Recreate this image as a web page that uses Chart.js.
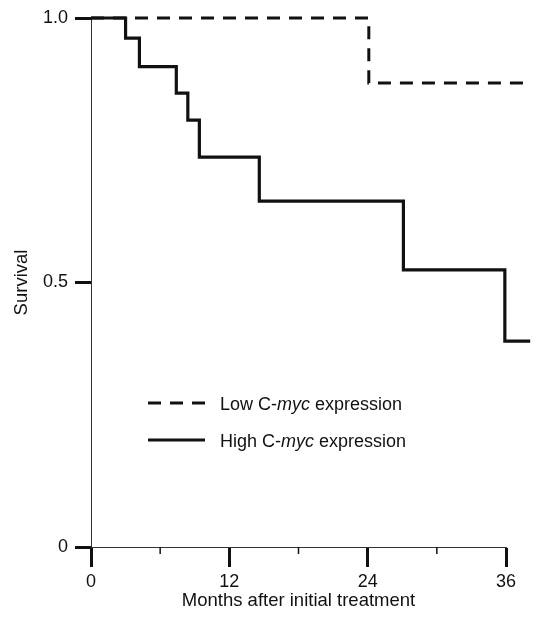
<!DOCTYPE html>
<html>
<head>
<meta charset="utf-8">
<title>Survival by C-myc expression</title>
<script src="https://cdn.jsdelivr.net/npm/chart.js@4.4.1/dist/chart.umd.min.js"></script>
<style>
    html, body { margin: 0; padding: 0; background: #fff; }
    #wrap { width: 537px; height: 617px; }
</style>
</head>
<body>
<div id="wrap"><canvas id="survivalChart" width="537" height="617"></canvas></div>
<script>
// --- Data ---
const xTicks = [0, 12, 24, 36];
const yTicks = [0, 0.5, 1.0];

const lowMonths = [0, 24.1, 37.8];
const lowSurvival = [1.0, 0.877, 0.877];

const highMonths = [0, 3.0, 4.2, 7.4, 8.4, 9.4, 14.6, 27.1, 35.9, 38.1];
const highSurvival = [1.0, 0.962, 0.908, 0.858, 0.807, 0.737, 0.654, 0.524, 0.389, 0.389];

const FONT = 'Liberation Sans, Arial, Helvetica, sans-serif';
const INK = '#111';

const toPoints = (xs, ys) => xs.map((x, i) => ({ x: x, y: ys[i] }));

// minor ticks on the x axis, shorter and thinner than the labelled ones
const minorTicks = {
    id: 'minorTicks',
    afterDraw(chart) {
        const xs = chart.scales.x;
        const ctx = chart.ctx;
        const y0 = chart.chartArea.bottom;
        ctx.save();
        ctx.strokeStyle = INK;
        ctx.lineWidth = 1.5;
        xs.ticks.forEach(t => {
            if (xTicks.includes(t.value)) return;
            const px = xs.getPixelForValue(t.value);
            ctx.beginPath();
            ctx.moveTo(px, y0);
            ctx.lineTo(px, y0 + 7);
            ctx.stroke();
        });
        ctx.restore();
    }
};

// legend inside the plot, with the gene name in italics
const innerLegend = {
    id: 'innerLegend',
    afterDraw(chart) {
        const ctx = chart.ctx;
        const rows = [
            { ds: chart.data.datasets[0], y: 403 },
            { ds: chart.data.datasets[1], y: 440 }
        ];
        ctx.save();
        rows.forEach(r => {
            ctx.strokeStyle = INK;
            ctx.lineWidth = 3;
            ctx.setLineDash(r.ds.borderDash || []);
            ctx.beginPath();
            ctx.moveTo(205, r.y);
            ctx.lineTo(148, r.y);
            ctx.stroke();
            ctx.setLineDash([]);

            const parts = r.ds.label.split('myc');
            let x = 220;
            const ty = r.y + 2;
            ctx.fillStyle = INK;
            ctx.textBaseline = 'middle';
            ctx.textAlign = 'left';
            ctx.font = '18px ' + FONT;
            ctx.fillText(parts[0], x, ty);
            x += ctx.measureText(parts[0]).width;
            ctx.font = 'italic 18px ' + FONT;
            ctx.fillText('myc', x, ty);
            x += ctx.measureText('myc').width;
            ctx.font = '18px ' + FONT;
            ctx.fillText(parts[1], x, ty);
        });
        ctx.restore();
    }
};

new Chart(document.getElementById('survivalChart'), {
    type: 'line',
    data: {
        datasets: [{
            label: 'Low C-myc expression',
            data: toPoints(lowMonths, lowSurvival),
            borderColor: INK,
            borderWidth: 3,
            borderDash: [13, 9],
            stepped: 'before',
            pointRadius: 0,
            fill: false,
            clip: false
        }, {
            label: 'High C-myc expression',
            data: toPoints(highMonths, highSurvival),
            borderColor: INK,
            borderWidth: 3.2,
            stepped: 'before',
            pointRadius: 0,
            fill: false,
            clip: false
        }]
    },
    options: {
        responsive: false,
        animation: false,
        layout: { padding: { top: 18, right: 31, left: 0, bottom: 0 } },
        plugins: {
            legend: { display: false },
            tooltip: { enabled: false }
        },
        scales: {
            x: {
                type: 'linear',
                min: 0,
                max: 36,
                afterFit: s => { s.height = 70; },
                afterBuildTicks: s => { s.ticks = [0, 6, 12, 18, 24, 30, 36].map(v => ({ value: v })); },
                ticks: {
                    color: INK,
                    font: { family: FONT, size: 18 },
                    padding: 4,
                    maxRotation: 0,
                    callback: v => xTicks.includes(v) ? String(v) : ''
                },
                grid: {
                    drawOnChartArea: false,
                    tickLength: 20,
                    tickWidth: 3,
                    tickColor: c => xTicks.includes(c.tick.value) ? INK : 'rgba(0,0,0,0)'
                },
                border: { color: '#333', width: 1 },
                title: {
                    display: true,
                    text: 'Months after initial treatment',
                    color: INK,
                    font: { family: FONT, size: 18.5 },
                    padding: { top: 0, bottom: 5 }
                }
            },
            y: {
                min: 0,
                max: 1,
                afterFit: s => { s.width = 91; },
                afterBuildTicks: s => { s.ticks = yTicks.map(v => ({ value: v })); },
                ticks: {
                    color: INK,
                    font: { family: FONT, size: 18 },
                    padding: 7,
                    callback: v => v === 0 ? '0' : v.toFixed(1)
                },
                grid: {
                    drawOnChartArea: false,
                    tickLength: 16,
                    tickWidth: 3,
                    tickColor: INK
                },
                border: { color: '#333', width: 1 },
                title: {
                    display: true,
                    text: 'Survival',
                    color: INK,
                    font: { family: FONT, size: 18.5 },
                    padding: { top: 11, bottom: 0 }
                }
            }
        }
    },
    plugins: [minorTicks, innerLegend]
});
</script>
</body>
</html>
